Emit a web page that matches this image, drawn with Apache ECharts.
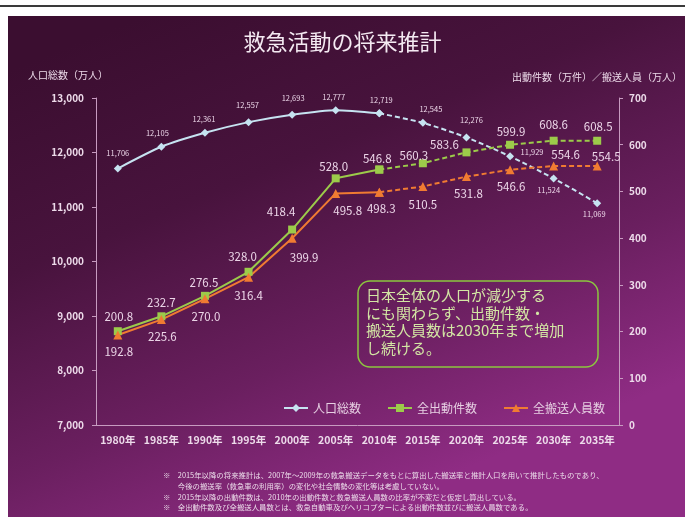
<!DOCTYPE html>
<html>
<head>
<meta charset="utf-8">
<script src="https://cdn.jsdelivr.net/npm/echarts@6/dist/echarts.min.js"></script>
<style>
  html, body { margin: 0; padding: 0; background: #ffffff; }
  #chart { width: 685px; height: 517px; }
</style>
</head>
<body>
<div id="chart"></div>
<script>
// 年次（カテゴリ）
const years = ['1980年','1985年','1990年','1995年','2000年','2005年','2010年','2015年','2020年','2025年','2030年','2035年'];
// 人口総数（万人）
const population = [11706, 12105, 12361, 12557, 12693, 12777, 12719, 12545, 12276, 11929, 11524, 11069];
// 全出動件数（万件）
const dispatches = [200.8, 232.7, 276.5, 328.0, 418.4, 528.0, 546.8, 560.3, 583.6, 599.9, 608.6, 608.5];
// 全搬送人員数（万人）
const transports = [192.8, 225.6, 270.0, 316.4, 399.9, 495.8, 498.3, 510.5, 531.8, 546.6, 554.6, 554.5];
// 左軸・右軸の目盛り
const leftAxisRange = [7000, 13000, 1000];
const rightAxisRange = [0, 700, 100];
// 実績の最終年（以降は推計として破線で描く）
const lastActualIndex = 6;

const notes = [
  '※　2015年以降の将来推計は、2007年～2009年の救急搬送データをもとに算出した搬送率と推計人口を用いて推計したものであり、',
  '　　今後の搬送率（救急車の利用率）の変化や社会情勢の変化等は考慮していない。',
  '※　2015年以降の出動件数は、2010年の出動件数と救急搬送人員数の比率が不変だと仮定し算出している。',
  '※　全出動件数及び全搬送人員数とは、救急自動車及びヘリコプターによる出動件数並びに搬送人員数である。'
];
const calloutLines = [
  '日本全体の人口が減少する',
  'にも関わらず、出動件数・',
  '搬送人員数は2030年まで増加',
  'し続ける。'
];

// ラベル位置（点からのずれ）
const popLabelOffset = [[0,-15],[-4,-14],[-1,-14],[-1,-17],[1,-17],[-2,-13],[2,-13],[8,-14],[5,-17],[22,-4],[-5,12],[-3,11]];
const dispLabelOffset = [[1,-15],[0,-14],[-1,-13],[-6,-15],[-11,-18],[-2,-12],[-2,-11],[-9,-8],[-22,-8],[1,-13],[0,-16],[1,-14]];
const tranLabelOffset = [[1,17],[1,17],[1,18],[0,18],[12,19],[12,17],[2,16],[0,18],[2,17],[1,17],[12,-11],[9,-9]];

const labelColor = '#ecd6e8';
const fontFam = '"Noto Sans CJK JP", "Noto Sans", sans-serif';

// 実績（実線）と推計（破線）に分ける
function split(values, offsets) {
  const mk = (v, i) => ({
    value: v,
    label: { offset: offsets[i] }
  });
  const solid = values.map((v, i) => i <= lastActualIndex ? mk(v, i) : null);
  const dashed = values.map((v, i) => i >= lastActualIndex ? mk(v, i) : null);
  dashed[lastActualIndex].label = { show: false };
  return { solid, dashed };
}

const popParts = split(population, popLabelOffset);
const dispParts = split(dispatches, dispLabelOffset);
const tranParts = split(transports, tranLabelOffset);

function lineSeries(name, data, color, symbol, symbolSize, yAxisIndex, dashed, labelCfg) {
  return {
    name: name,
    type: 'line',
    yAxisIndex: yAxisIndex,
    data: data,
    symbol: symbol,
    symbolSize: symbolSize,
    connectNulls: false,
    smooth: yAxisIndex === 0 ? 0.25 : false,
    lineStyle: { color: color, width: 2, type: dashed ? [5, 3] : 'solid' },
    itemStyle: { color: color },
    label: Object.assign({ show: true, position: 'inside', color: labelColor, fontFamily: fontFam }, labelCfg),
    emphasis: { disabled: true },
    z: 3
  };
}

const popColor = '#c6e3f1';
const dispColor = '#9ccb4a';
const tranColor = '#f07b32';

const popLabel = { fontSize: 7.5, formatter: p => p.value.toLocaleString('en-US') };
const valLabel = { fontSize: 11.5, formatter: p => p.value.toFixed(1) };

const chart = echarts.init(document.getElementById('chart'), null, { renderer: 'canvas' });

chart.setOption({
  animation: false,
  backgroundColor: 'transparent',
  title: {
    text: '救急活動の将来推計',
    left: 'center',
    top: 26,
    textStyle: { color: '#f4eaf2', fontSize: 22, fontWeight: 'normal', fontFamily: fontFam }
  },
  legend: {
    left: 278,
    top: 397,
    itemWidth: 24,
    itemHeight: 10,
    itemGap: 26,
    data: ['人口総数', '全出動件数', '全搬送人員数'],
    textStyle: { color: '#e6cfe2', fontSize: 12, fontFamily: fontFam }
  },
  grid: { left: 96, right: 66, top: 98, bottom: 92 },
  xAxis: {
    type: 'category',
    data: years,
    boundaryGap: true,
    axisLine: { lineStyle: { color: '#c79bc0', width: 1 } },
    axisTick: { lineStyle: { color: '#c79bc0' }, length: 4 },
    axisLabel: { interval: 0, color: '#eddbea', fontSize: 10.5, fontWeight: 'bold', fontFamily: fontFam, margin: 10 },
    splitLine: { show: false }
  },
  yAxis: [
    {
      type: 'value',
      min: leftAxisRange[0], max: leftAxisRange[1], interval: leftAxisRange[2],
      position: 'left',
      axisLine: { show: true, lineStyle: { color: '#c79bc0' } },
      axisTick: { show: true, length: 4, lineStyle: { color: '#c79bc0' } },
      axisLabel: { color: '#eddbea', fontSize: 10, fontWeight: 'bold', fontFamily: fontFam, margin: 12,
                   formatter: v => v.toLocaleString('en-US') },
      splitLine: { show: false }
    },
    {
      type: 'value',
      min: rightAxisRange[0], max: rightAxisRange[1], interval: rightAxisRange[2],
      position: 'right',
      axisLine: { show: true, lineStyle: { color: '#c79bc0' } },
      axisTick: { show: true, length: 4, lineStyle: { color: '#c79bc0' } },
      axisLabel: { color: '#eddbea', fontSize: 10, fontWeight: 'bold', fontFamily: fontFam, margin: 10 },
      splitLine: { show: false }
    }
  ],
  series: [
    lineSeries('人口総数', popParts.solid, popColor, 'diamond', 8, 0, false, popLabel),
    lineSeries('人口総数', popParts.dashed, popColor, 'diamond', 8, 0, true, popLabel),
    lineSeries('全出動件数', dispParts.solid, dispColor, 'rect', 8, 1, false, valLabel),
    lineSeries('全出動件数', dispParts.dashed, dispColor, 'rect', 8, 1, true, valLabel),
    lineSeries('全搬送人員数', tranParts.solid, tranColor, 'triangle', 9, 1, false, valLabel),
    lineSeries('全搬送人員数', tranParts.dashed, tranColor, 'triangle', 9, 1, true, valLabel)
  ],
  graphic: [
    // 上部の罫線
    { type: 'rect', z: -10, silent: true, shape: { x: 0, y: 5, width: 685, height: 2 }, style: { fill: '#3a3a3a' } },
    // スライド背景
    {
      type: 'rect', z: -20, silent: true,
      shape: { x: 8, y: 16, width: 677, height: 501 },
      style: {
        fill: new echarts.graphic.LinearGradient(0.2, 0, 0.5, 1, [
          { offset: 0, color: '#3b0e30' },
          { offset: 0.35, color: '#48133d' },
          { offset: 0.7, color: '#6a1f5f' },
          { offset: 1, color: '#8f2c84' }
        ])
      }
    },
    // 軸の単位
    { type: 'text', left: 28, top: 70, silent: true,
      style: { text: '人口総数（万人）', fill: '#eddbea', fontSize: 10, fontFamily: fontFam } },
    { type: 'text', right: 3, top: 72, silent: true,
      style: { text: '出動件数（万件）／搬送人員（万人）', fill: '#eddbea', fontSize: 10, fontFamily: fontFam } },
    // 吹き出し
    {
      type: 'rect', silent: true, z: 5,
      shape: { x: 358, y: 281, width: 240, height: 86, r: 12 },
      style: { fill: 'rgba(0,0,0,0)', stroke: '#8cc63f', lineWidth: 1.5 }
    },
    {
      type: 'text', silent: true, z: 6, left: 366, top: 287,
      style: { text: calloutLines.join('\n'), fill: '#d3e6a4', fontSize: 15, lineHeight: 17.5, fontFamily: fontFam }
    },
    // 注記
    {
      type: 'text', silent: true, left: 163, top: 470,
      style: { text: notes.join('\n'), fill: '#ecdcea', fontSize: 7.4, lineHeight: 10.7, fontFamily: fontFam }
    }
  ]
});
</script>
</body>
</html>
